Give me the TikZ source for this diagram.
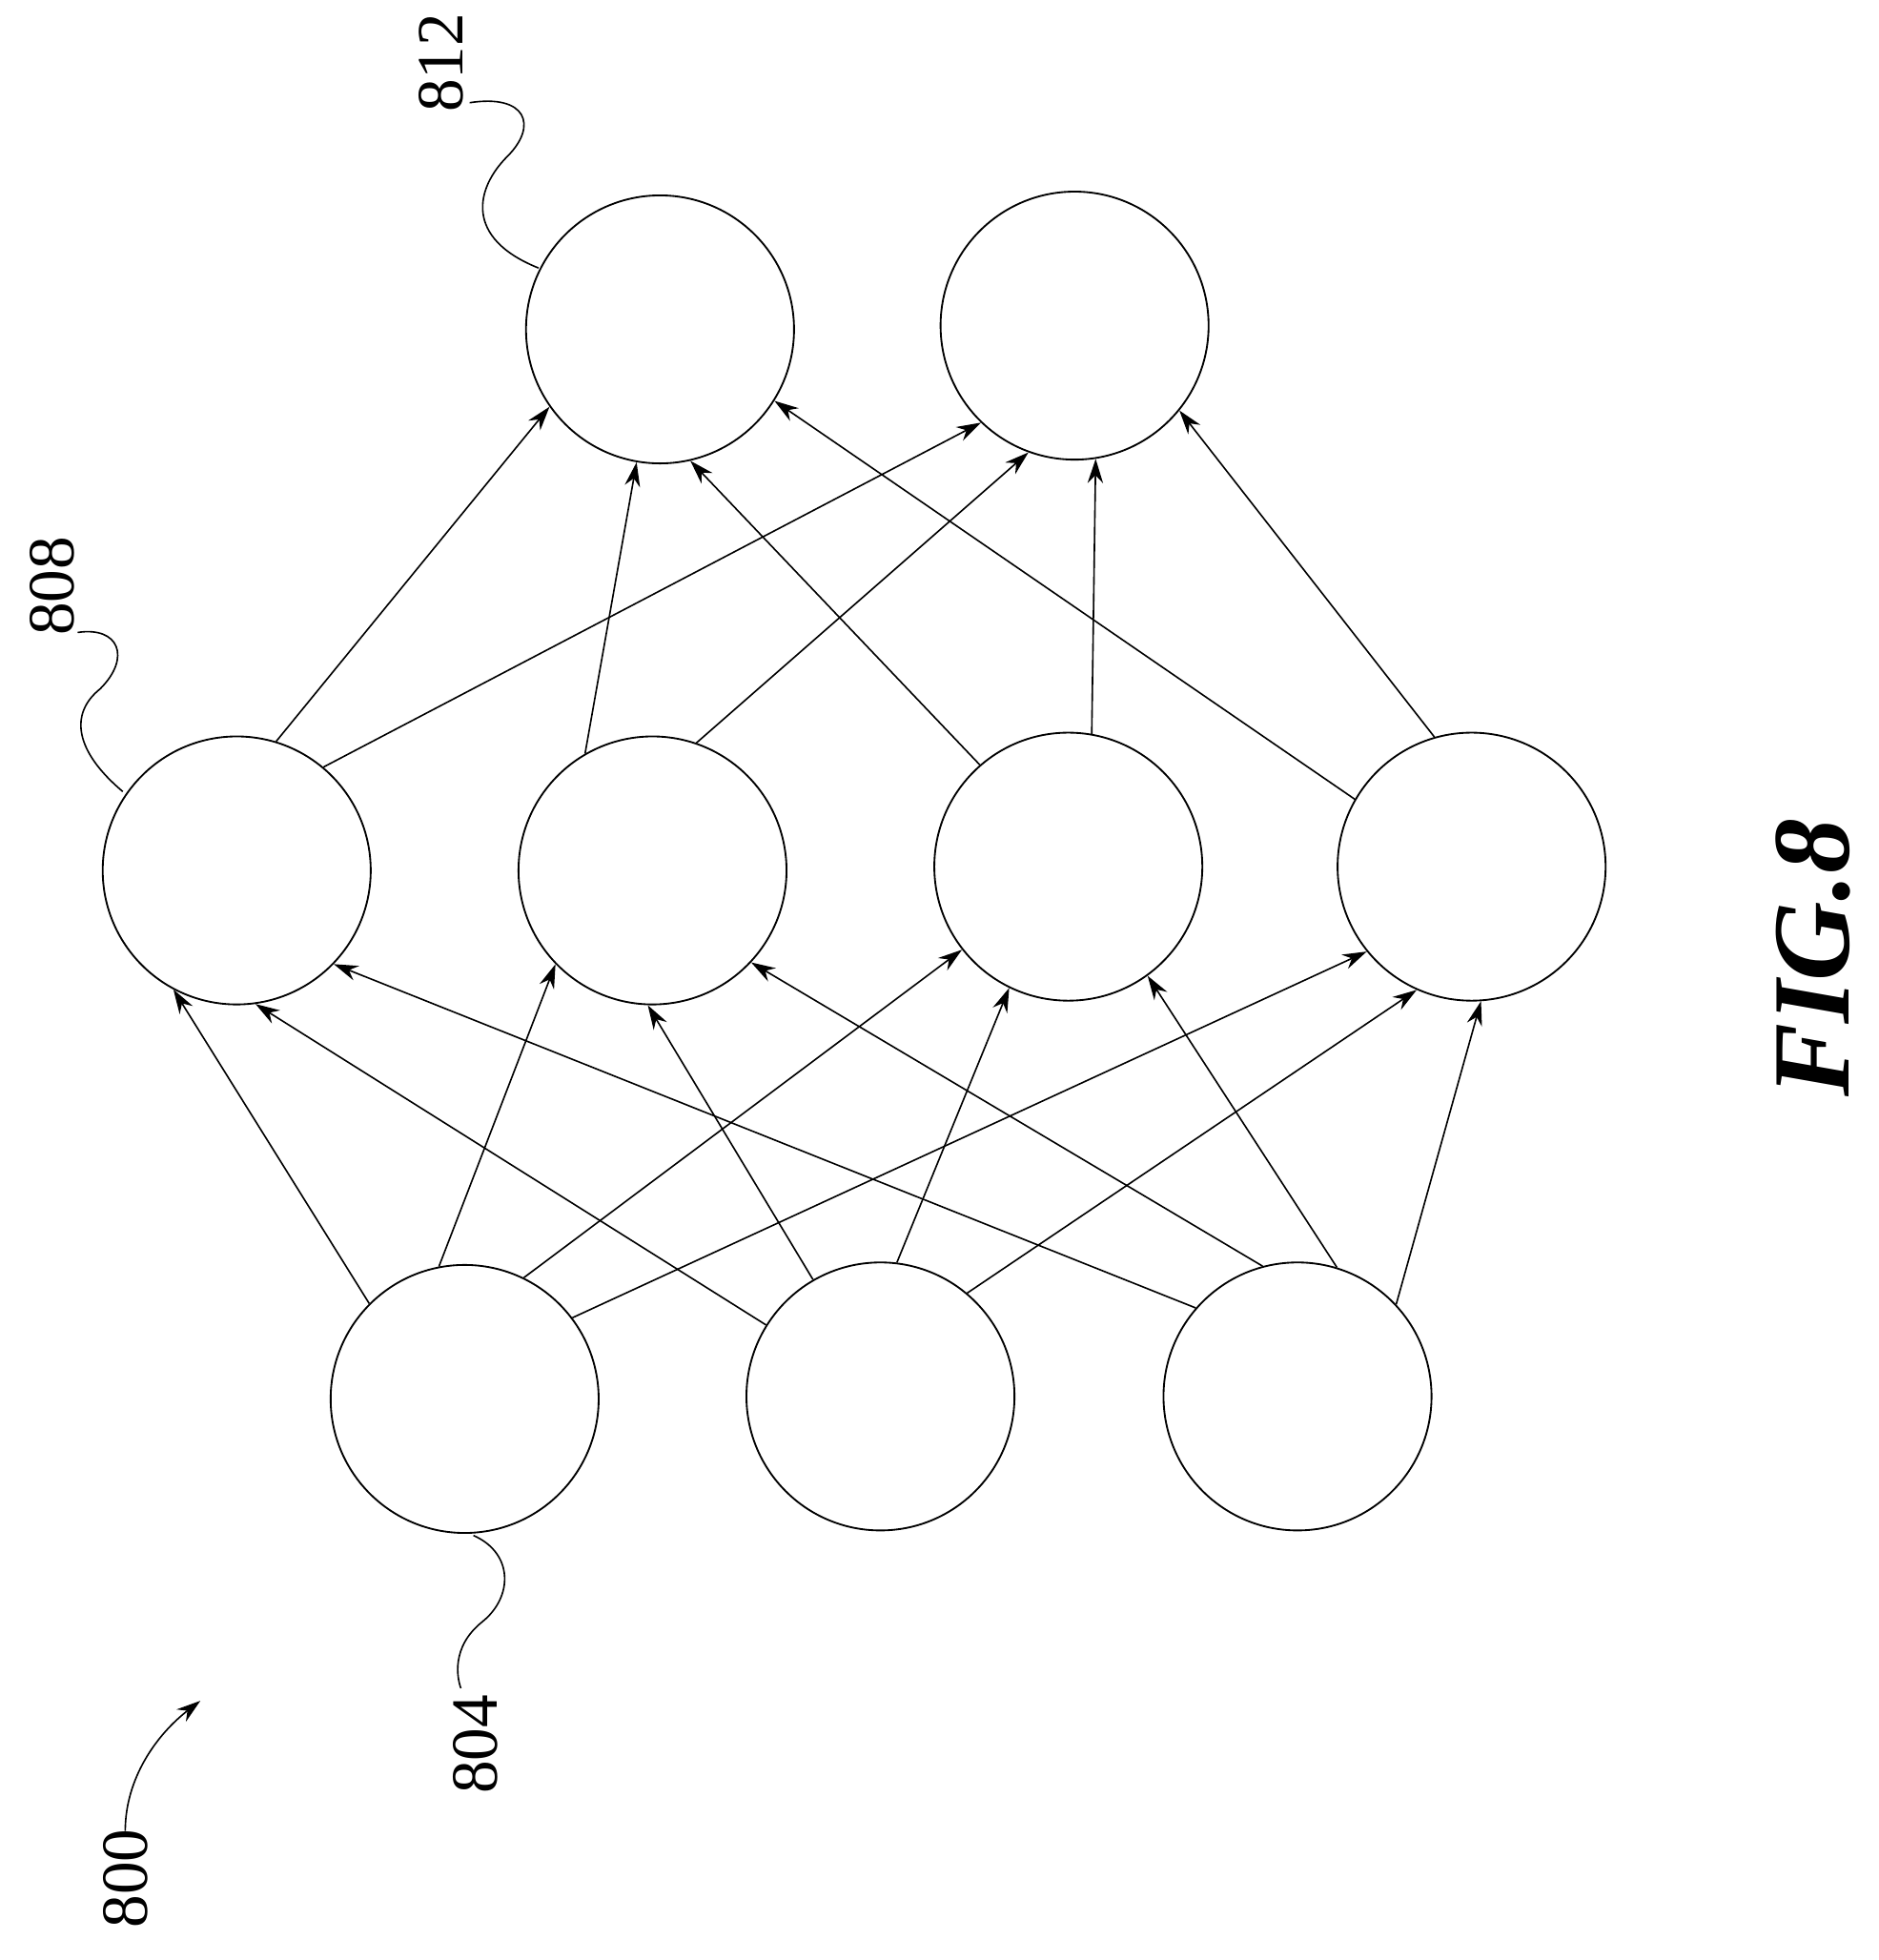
\documentclass[tikz,border=0pt]{standalone}
\usepackage{fontspec}
\setmainfont{Liberation Serif}
\usetikzlibrary{arrows.meta}
\begin{document}
\begin{tikzpicture}[x=0.02cm,y=-0.02cm,
  neuron/.style={circle,draw,line width=0.8pt,minimum size=214*0.02cm,inner sep=0pt},
  conn/.style={line width=0.7pt,-{Stealth[length=11pt,width=7pt]}},
  lead/.style={line width=0.7pt},
  lbl/.style={font=\fontsize{30}{30}\selectfont,rotate=90}]
\useasboundingbox (0,0) rectangle (1500,1565);
\node[neuron] (o1) at (527,263) {};
\node[neuron] (o2) at (858,260) {};
\node[neuron] (h1) at (189,695) {};
\node[neuron] (h2) at (521,695) {};
\node[neuron] (h3) at (853,692) {};
\node[neuron] (h4) at (1175,692) {};
\node[neuron] (i1) at (371,1117) {};
\node[neuron] (i2) at (703,1115) {};
\node[neuron] (i3) at (1036,1115) {};
% hidden -> output
\draw[conn] (h1.73.5) -- (o1.-145);
\draw[conn] (h1.50) -- (o2.-134);
\draw[conn] (h2.120) -- (o1.-100);
\draw[conn] (h2.71) -- (o2.-110);
\draw[conn] (h3.131) -- (o1.-77);
\draw[conn] (h3.80) -- (o2.-81);
\draw[conn] (h4.150) -- (o1.-32);
\draw[conn] (h4.106) -- (o2.-39);
% input -> hidden
\draw[conn] (i1.135) -- (h1.-118);
\draw[conn] (i1.101) -- (h2.-136);
\draw[conn] (i1.64) -- (h3.-142);
\draw[conn] (i1.37) -- (h4.-141);
\draw[conn] (i2.148) -- (h1.-82);
\draw[conn] (i2.120) -- (h2.-92);
\draw[conn] (i2.83) -- (h3.-116);
\draw[conn] (i2.50) -- (h4.-114);
\draw[conn] (i3.139) -- (h1.-44);
\draw[conn] (i3.105) -- (h2.-43);
\draw[conn] (i3.73) -- (h3.-54);
\draw[conn] (i3.43) -- (h4.-86);
\node[lbl] (l812) at (352,50) {812};
\node[lbl] (l808) at (42,468) {808};
\node[lbl] (l804) at (380,1393) {804};
\node[lbl] (l800) at (100,1500) {800};
\node[font=\fontsize{50}{50}\selectfont\bfseries\itshape,rotate=90] (fig) at (1448,765) {FIG.8};
\draw[lead] (430,214) .. controls (370,190) and (380,150) .. (405,125) .. controls (430,100) and (420,75) .. (375,82);
\draw[lead] (98,632) .. controls (60,600) and (55,570) .. (80,550) .. controls (105,525) and (95,500) .. (62,505);
\draw[lead] (378,1226) .. controls (410,1240) and (410,1275) .. (385,1295) .. controls (360,1315) and (365,1340) .. (368,1348);
\coordinate (a800) at (160,1358);
\draw[lead,-{Stealth[length=11pt,width=7pt]}] (100,1462) .. controls (100,1420) and (125,1385) .. (a800);
\end{tikzpicture}
\end{document}
